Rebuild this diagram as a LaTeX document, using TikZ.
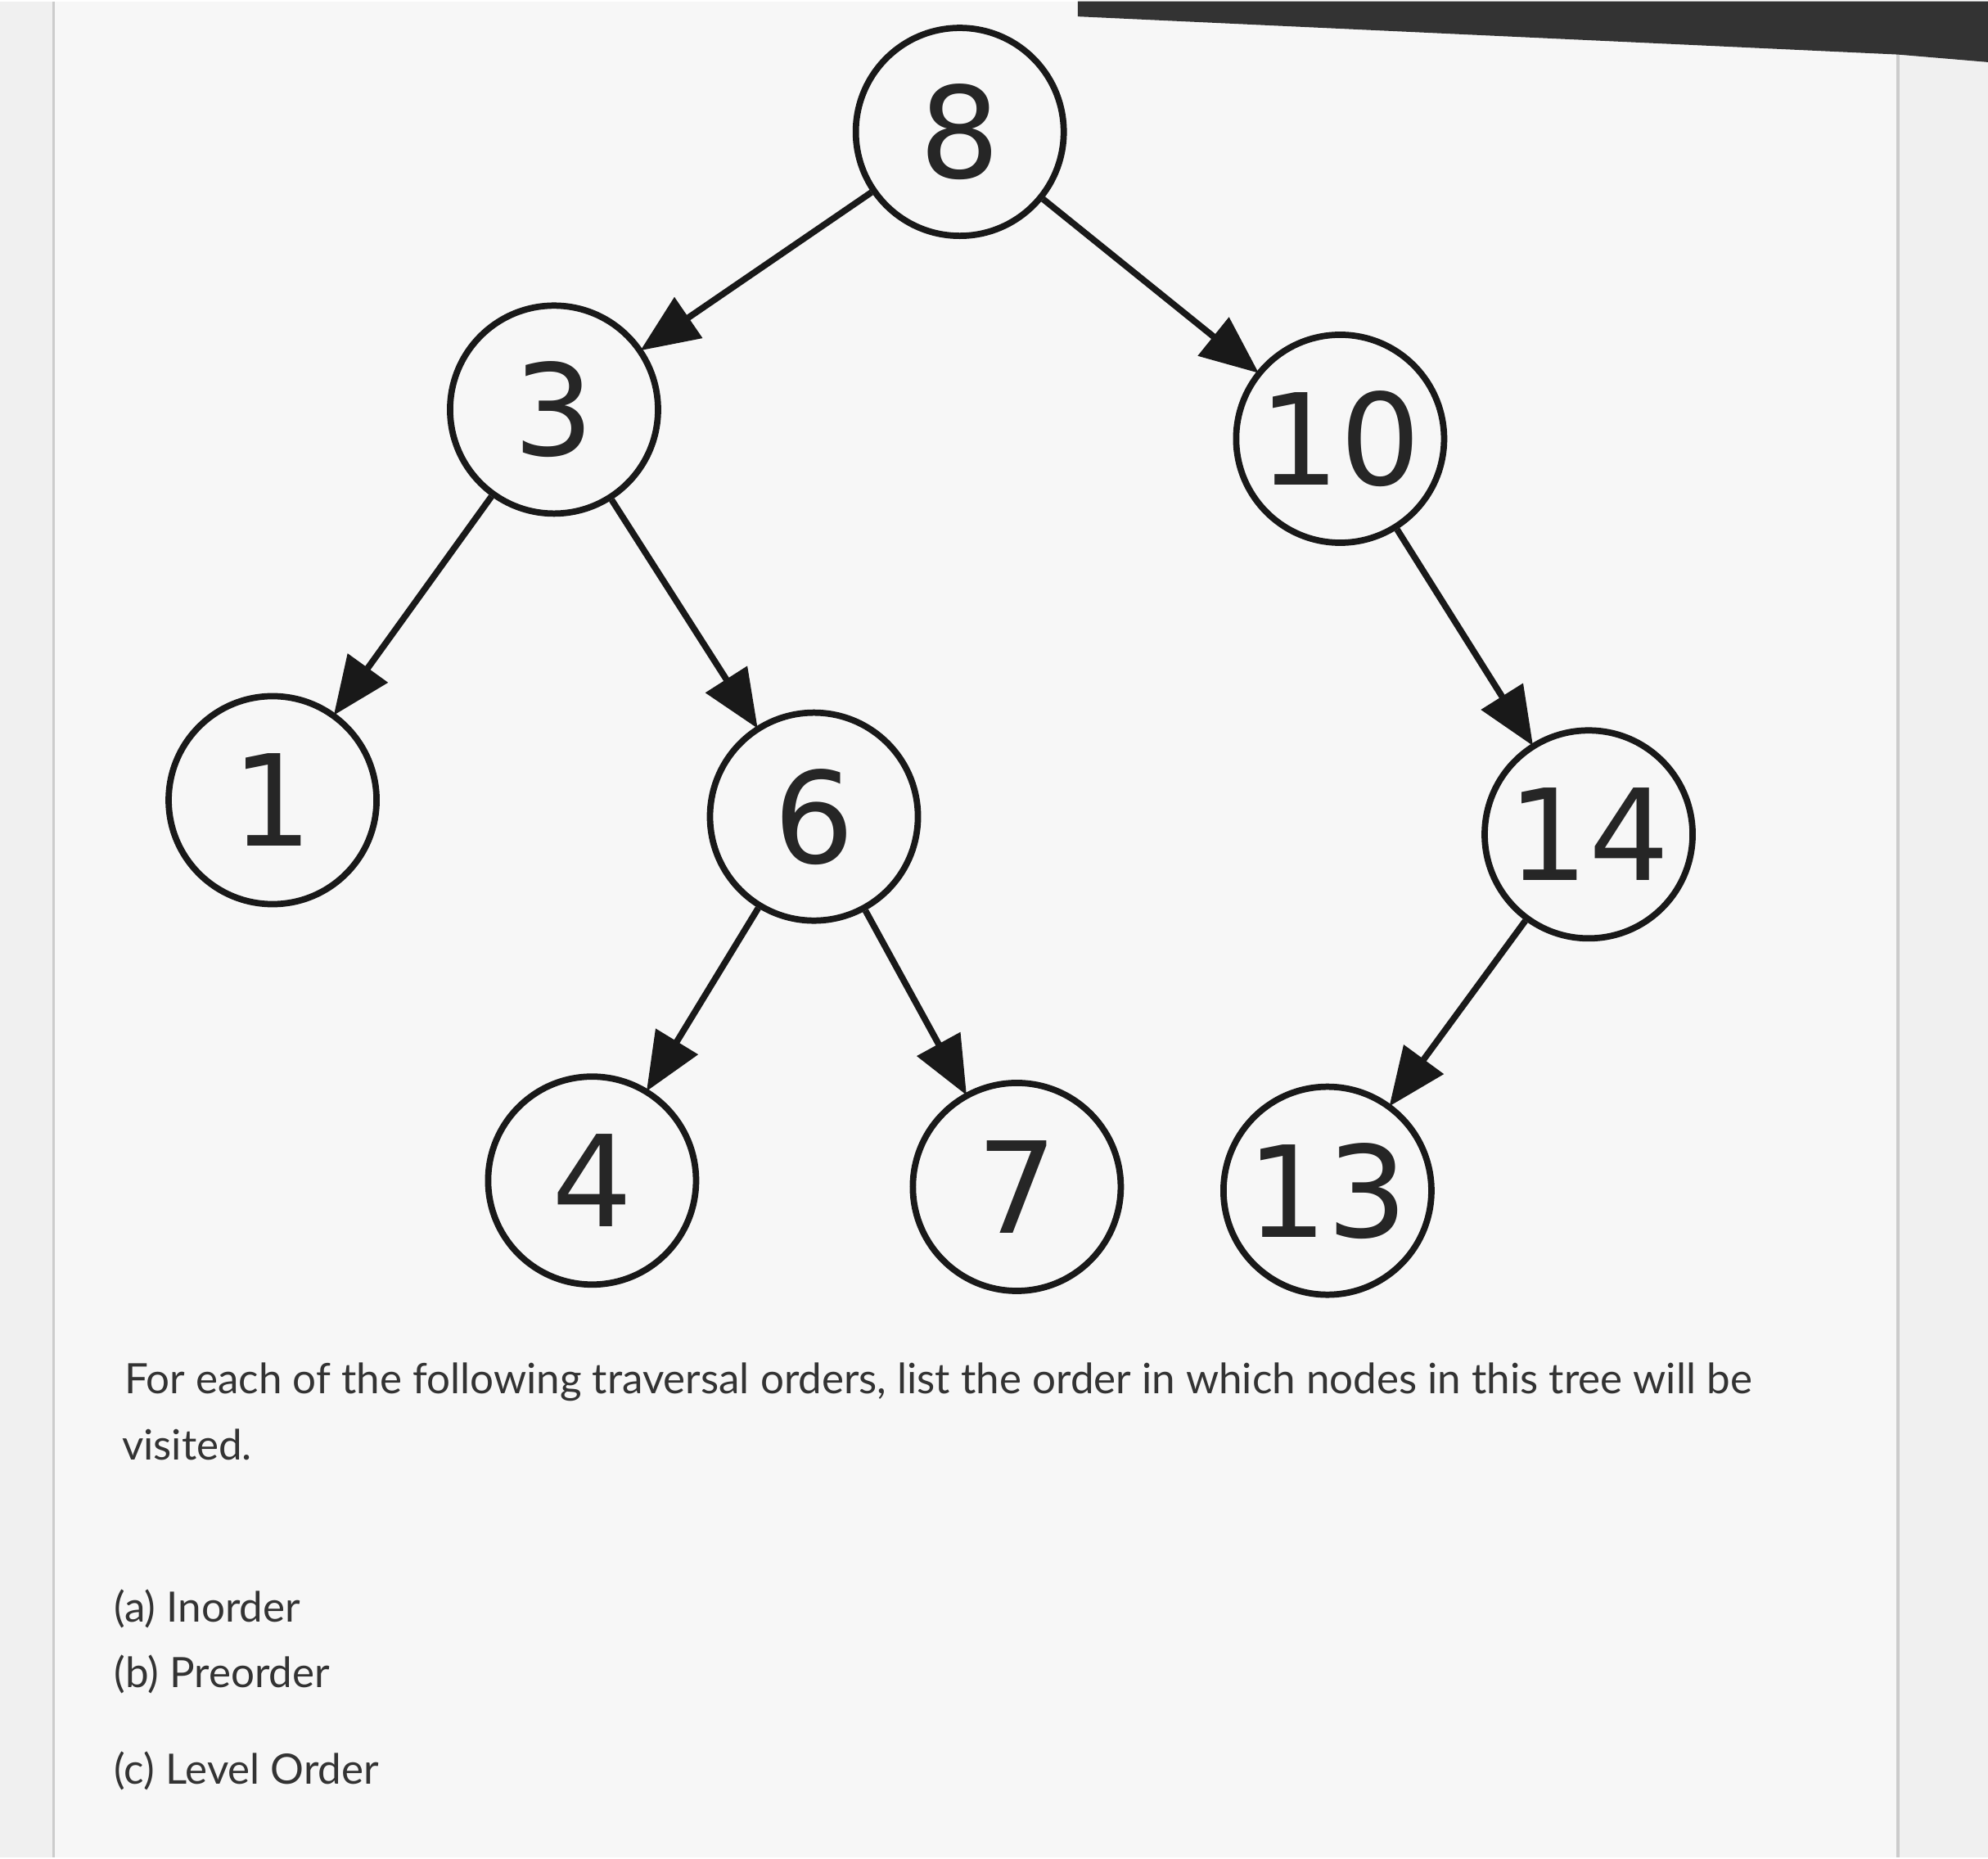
\documentclass[tikz,border=0pt]{standalone}
\usepackage{fontspec}
\setmainfont{Lato}
\newfontfamily\digitfont{DejaVu Sans}
\usetikzlibrary{arrows.meta}
\begin{document}
\begin{tikzpicture}[x=1pt,y=-1pt,
  tnode/.style={circle,draw=black!90,line width=5pt,minimum size=164pt,inner sep=0pt,font=\digitfont\fontsize{100}{100}\selectfont,text=black!85},
  edge/.style={line width=5pt,draw=black!90,-{Triangle[length=46pt,width=38pt]},shorten >=-2pt},
  qtext/.style={anchor=base west,font=\fontsize{33}{40}\selectfont,text=black!80,inner sep=0pt}]
\fill[gray!12] (0,0) rectangle (1568,1464);
\fill[gray!6] (42,0) rectangle (1497,1464);
\draw[gray!40,line width=2pt] (42,0) -- (42,1464);
\draw[gray!40,line width=2pt] (1497,40) -- (1497,1464);
\fill[black!80] (850,0) -- (1568,0) -- (1568,48) -- (1497,42) -- (850,12) -- cycle;
\node[tnode] (n8) at (757,103) {8};
\node[tnode] (n3) at (437,322) {3};
\node[tnode] (n10) at (1057,345) {10};
\node[tnode] (n1) at (215,630) {1};
\node[tnode] (n6) at (642,643) {6};
\node[tnode] (n14) at (1253,657) {14};
\node[tnode] (n4) at (467,930) {4};
\node[tnode] (n7) at (802,935) {7};
\node[tnode] (n13) at (1047,938) {13};
\draw[edge] (n8) -- (n3);
\draw[edge] (n8) -- (n10);
\draw[edge] (n3) -- (n1);
\draw[edge] (n3) -- (n6);
\draw[edge] (n10) -- (n14);
\draw[edge] (n6) -- (n4);
\draw[edge] (n6) -- (n7);
\draw[edge] (n14) -- (n13);
\node[qtext] (t1) at (98,1098) {For each of the following traversal orders, list the order in which nodes in this tree will be};
\node[qtext] (t2) at (96,1150) {visited.};
\node[qtext] (ta) at (90,1278) {(a) Inorder};
\node[qtext] (tb) at (90,1330) {(b) Preorder};
\node[qtext] (tc) at (90,1406) {(c) Level Order};
\end{tikzpicture}
\end{document}
